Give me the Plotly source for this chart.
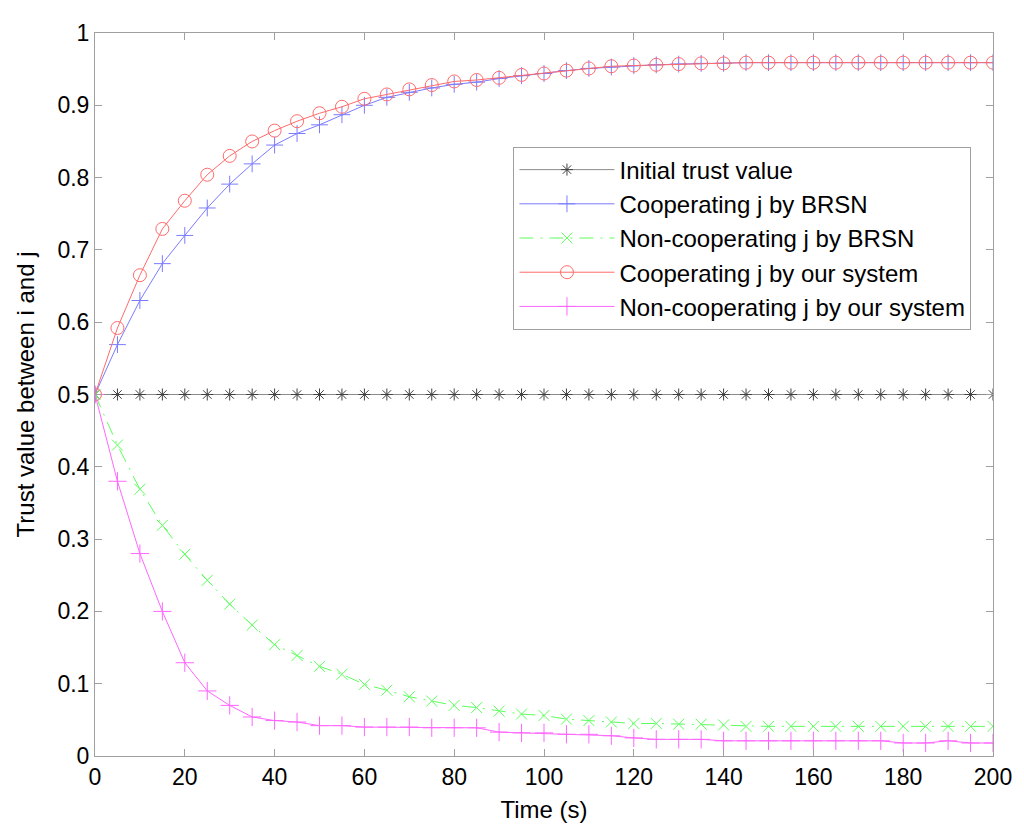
import plotly.graph_objects as go

# time axis (s)
time = list(range(0, 205, 5))

initial_trust = [0.5] * 41

coop_brsn = [0.5, 0.569, 0.630, 0.681, 0.720, 0.758, 0.791, 0.819, 0.845, 0.861,
             0.873, 0.887, 0.900, 0.911, 0.918, 0.924, 0.929, 0.932, 0.937,
             0.941, 0.944, 0.948, 0.951, 0.953, 0.955, 0.956, 0.957, 0.958, 0.958,
             0.959, 0.959, 0.959, 0.959, 0.959, 0.959, 0.959, 0.959, 0.959, 0.959,
             0.959, 0.959]

noncoop_brsn = [0.5, 0.430, 0.369, 0.319, 0.279, 0.243, 0.210, 0.181, 0.154, 0.139,
                0.124, 0.113, 0.099, 0.091, 0.082, 0.076, 0.070, 0.067, 0.062,
                0.058, 0.056, 0.051, 0.049, 0.047, 0.045, 0.045, 0.044, 0.044, 0.043,
                0.041, 0.041, 0.041, 0.041, 0.041, 0.041, 0.041, 0.041, 0.041, 0.041,
                0.041, 0.041]

coop_ours = [0.5, 0.592, 0.665, 0.729, 0.768, 0.804, 0.830, 0.850, 0.865, 0.878,
             0.889, 0.898, 0.909, 0.915, 0.922, 0.928, 0.933, 0.935, 0.938,
             0.942, 0.944, 0.948, 0.951, 0.954, 0.955, 0.956, 0.957, 0.958, 0.958,
             0.959, 0.959, 0.959, 0.959, 0.959, 0.959, 0.959, 0.959, 0.959, 0.959,
             0.959, 0.959]

noncoop_ours = [0.5, 0.380, 0.280, 0.200, 0.129, 0.090, 0.070, 0.054, 0.049, 0.047,
                0.042, 0.042, 0.040, 0.040, 0.040, 0.039, 0.039, 0.039, 0.033,
                0.032, 0.032, 0.030, 0.030, 0.028, 0.025, 0.023, 0.023, 0.023, 0.021,
                0.021, 0.021, 0.021, 0.021, 0.021, 0.021, 0.021,
                0.018, 0.018, 0.021, 0.018, 0.018]

series = [
    ("Initial trust value", initial_trust, "#8c8c8c", "#404040", "asterisk-open", 10, "solid"),
    ("Cooperating j by BRSN", coop_brsn, "#7b7bff", "#7b7bff", "cross-thin-open", 12, "solid"),
    ("Non-cooperating j by BRSN", noncoop_brsn, "#5cff5c", "#5cff5c", "x-thin-open", 11, "14px,7px,2px,7px"),
    ("Cooperating j by our system", coop_ours, "#ff6b6b", "#ff6b6b", "circle-open", 13, "solid"),
    ("Non-cooperating j by our system", noncoop_ours, "#ff66ff", "#ff66ff", "cross-thin-open", 13, "solid"),
]

fig = go.Figure()
for name, vals, lc, mc, sym, sz, dash in series:
    fig.add_trace(go.Scatter(
        x=time, y=vals, name=name, mode="lines+markers",
        line=dict(color=lc, width=1, dash=dash),
        marker=dict(symbol=sym, size=sz, color=mc, line=dict(color=mc, width=1)),
    ))

axis_style = dict(
    showline=True, linecolor="#a0a0a0", linewidth=1, mirror="ticks",
    ticks="inside", ticklen=7, tickcolor="#a0a0a0",
    showgrid=False, zeroline=False,
    tickfont=dict(size=23, color="black"),
)

fig.update_xaxes(range=[0, 200], tickvals=list(range(0, 201, 20)),
                 title=dict(text="Time (s)", font=dict(size=24, color="black"), standoff=12),
                 **axis_style)
fig.update_yaxes(range=[0, 1], tickvals=[i / 10 for i in range(11)],
                 ticktext=["0", "0.1", "0.2", "0.3", "0.4", "0.5", "0.6", "0.7", "0.8", "0.9", "1"],
                 title=dict(text="Trust value between i and j", font=dict(size=24, color="black"), standoff=16),
                 **axis_style)

# page body has an 8px margin, so the figure is sized/offset to land the axes where the reference has them
fig.update_layout(
    width=1016, height=827,
    margin=dict(l=87, r=29, t=20, b=79),
    paper_bgcolor="white", plot_bgcolor="white",
    font=dict(family="Liberation Sans, Arial, sans-serif", color="black"),
    showlegend=True,
    legend=dict(x=0.466, y=0.843, xanchor="left", yanchor="top",
                bgcolor="white", bordercolor="#a0a0a0", borderwidth=1,
                font=dict(size=24), tracegroupgap=0, itemwidth=95),
)

fig.write_html("out.html")
